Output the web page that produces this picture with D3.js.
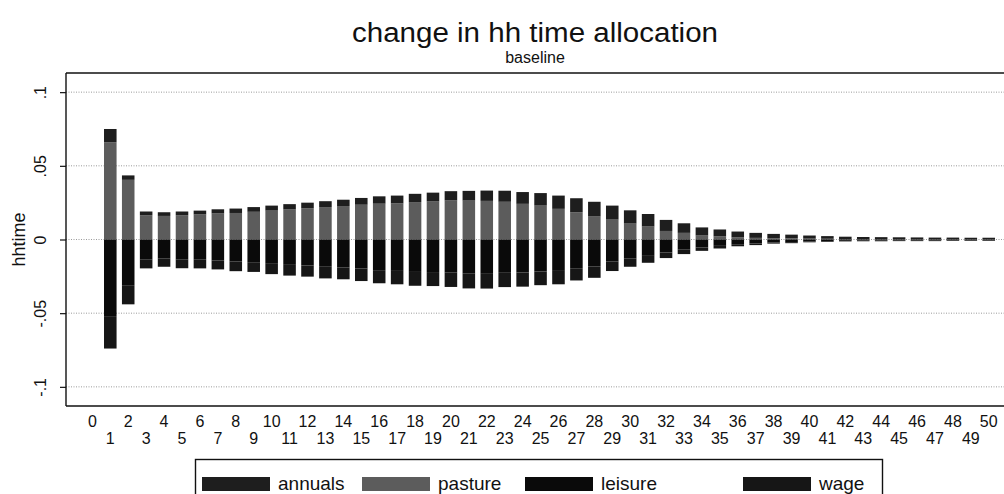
<!DOCTYPE html>
<html>
<head>
<meta charset="utf-8">
<script src="https://cdn.jsdelivr.net/npm/d3@7"></script>
<style>
  html, body { margin: 0; padding: 0; background: #fff; }
  svg { display: block; font-family: "Liberation Sans", Arial, sans-serif; }
</style>
</head>
<body>
<svg id="chart" width="1004" height="494"></svg>
<script>
// ---- data ----
const categories = d3.range(0, 51);
const annuals = [0, .009, .003, .0025, .0025, .0025, .0026, .0028, .003, .0032, .0034, .0036, .0038, .004, .0043, .0046, .005, .0053, .0056, .006, .0063, .0066, .007, .0075, .008, .0085, .009, .0095, .010, .0095, .009, .0085, .0075, .0065, .0055, .0047, .004, .0034, .0029, .0025, .0021, .0018, .0016, .0014, .0013, .0012, .0011, .0010, .0010, .0009, .0009];
const pasture = [0, .066, .0405, .0165, .016, .0165, .017, .0177, .018, .0188, .0196, .0204, .0212, .022, .0227, .0236, .0243, .0245, .0254, .0258, .0265, .0264, .0262, .0256, .0242, .023, .0208, .0185, .0156, .0135, .0108, .0088, .0058, .0045, .0027, .0021, .0014, .0011, .0009, .0008, .0006, .0005, .0003, .0003, .0003, .0003, .0003, .0003, .0003, .0003, .0003];
const leisure = [0, -.052, -.031, -.0137, -.013, -.0137, -.0137, -.0142, -.015, -.0154, -.0165, -.0172, -.0176, -.0185, -.0189, -.0197, -.0208, -.0213, -.022, -.0221, -.0225, -.0232, -.0233, -.0226, -.0224, -.0217, -.0213, -.0195, -.0182, -.015, -.013, -.0111, -.0088, -.0069, -.0054, -.0043, -.0032, -.0027, -.002, -.0018, -.0013, -.0011, -.0009, -.0008, -.0008, -.0008, -.0008, -.0008, -.0007, -.0007, -.0007];
const wage = [0, -.022, -.013, -.0059, -.0055, -.0058, -.0059, -.0061, -.0065, -.0066, -.007, -.0073, -.0076, -.0079, -.0081, -.0085, -.0089, -.0091, -.0094, -.0095, -.0097, -.01, -.01, -.0097, -.0096, -.0093, -.0091, -.0083, -.0078, -.0064, -.0055, -.0047, -.0038, -.003, -.0023, -.0018, -.0014, -.0011, -.0008, -.0007, -.0006, -.0005, -.0004, -.0004, -.0004, -.0003, -.0003, -.0003, -.0003, -.0003, -.0003];
const seriesNames = ["annuals", "pasture", "leisure", "wage"];
const yTickValues = [-.1, -.05, 0, .05, .1];
const yTickLabels = ["-.1", "-.05", "0", ".05", ".1"];
const titleText = "change in hh time allocation";
const subtitleText = "baseline";
const yTitle = "hhtime";

// ---- layout ----
const W = 1004, H = 494;
const plotL = 66, plotR = 1004, plotT = 73, plotB = 406;
const colors = { annuals: "#1e1e1e", pasture: "#5c5c5c", leisure: "#0a0a0a", wage: "#161616" };

const svg = d3.select("#chart");

const rows = categories.map((c, i) => ({ cat: c, annuals: annuals[i], pasture: pasture[i], leisure: leisure[i], wage: wage[i] }));

const x = d3.scaleBand().domain(categories).range([83.4, 997.7]).paddingInner(0.3).paddingOuter(0.15);
const y = d3.scaleLinear().domain([-0.113, 0.113]).range([plotB, plotT]);

// gridlines
svg.append("g").selectAll("line").data(yTickValues).join("line")
  .attr("x1", plotL).attr("x2", plotR)
  .attr("y1", d => y(d)).attr("y2", d => y(d))
  .attr("stroke", "#9a9a9a").attr("stroke-width", 1)
  .attr("stroke-dasharray", "1,1.5");

// bars
const stack = d3.stack().keys(["pasture", "annuals", "leisure", "wage"]).offset(d3.stackOffsetDiverging);
const stacked = stack(rows);
svg.append("g").selectAll("g").data(stacked).join("g")
  .attr("fill", d => colors[d.key])
  .selectAll("rect").data(d => d).join("rect")
  .attr("x", d => x(d.data.cat))
  .attr("width", x.bandwidth())
  .attr("y", d => y(Math.max(d[0], d[1])))
  .attr("height", d => Math.abs(y(d[0]) - y(d[1])));

// frame lines
svg.append("line").attr("x1", plotL).attr("x2", plotR).attr("y1", plotT).attr("y2", plotT)
  .attr("stroke", "#111").attr("stroke-width", 1.4);
svg.append("line").attr("x1", plotL).attr("x2", plotR).attr("y1", plotB).attr("y2", plotB)
  .attr("stroke", "#111").attr("stroke-width", 1.4);

// y axis
const yAxis = d3.axisLeft(y).tickValues(yTickValues)
  .tickFormat((d, i) => yTickLabels[i]).tickSize(6).tickSizeOuter(0);
const gy = svg.append("g").attr("transform", `translate(${plotL},0)`).call(yAxis);
gy.select(".domain").attr("stroke", "#111").attr("stroke-width", 1.4)
  .attr("d", `M0,${plotT}V${plotB}`);
gy.selectAll(".tick line").attr("stroke", "#111").attr("stroke-width", 1.2);
gy.selectAll(".tick text")
  .attr("font-size", 16).attr("fill", "#111")
  .attr("x", 0).attr("dy", 0)
  .attr("text-anchor", "middle")
  .attr("transform", "translate(-20,0) rotate(-90)");

// x axis labels
const xAxis = d3.axisBottom(x).tickSize(0).tickSizeOuter(0);
const gx = svg.append("g").attr("transform", `translate(0,${plotB})`).call(xAxis);
gx.select(".domain").remove();
gx.selectAll(".tick text")
  .attr("font-size", 16).attr("fill", "#111")
  .attr("y", d => d % 2 === 0 ? 10 : 27)
  .attr("dy", "0.71em");

// y title
svg.append("text").attr("transform", `translate(25,${y(0)}) rotate(-90)`)
  .attr("text-anchor", "middle").attr("font-size", 18).attr("fill", "#111").text(yTitle);

// title & subtitle
const cx = (plotL + plotR) / 2;
svg.append("text").attr("x", cx).attr("y", 42).attr("text-anchor", "middle")
  .attr("font-size", 27).attr("fill", "#111")
  .attr("textLength", 366).attr("lengthAdjust", "spacingAndGlyphs").text(titleText);
svg.append("text").attr("x", cx).attr("y", 63).attr("text-anchor", "middle")
  .attr("font-size", 16).attr("fill", "#111").text(subtitleText);

// legend
const lg = svg.append("g");
lg.append("rect").attr("x", 195.5).attr("y", 459.5).attr("width", 687).attr("height", 50)
  .attr("fill", "#fff").attr("stroke", "#111").attr("stroke-width", 1.4);
const legendX = [202, 362, 525, 743];
seriesNames.forEach((k, i) => {
  lg.append("rect").attr("x", legendX[i]).attr("y", 477).attr("width", 68).attr("height", 14)
    .attr("fill", colors[k]);
  lg.append("text").attr("x", legendX[i] + 76).attr("y", 490)
    .attr("font-size", 19).attr("fill", "#111").text(k);
});
</script>
</body>
</html>
